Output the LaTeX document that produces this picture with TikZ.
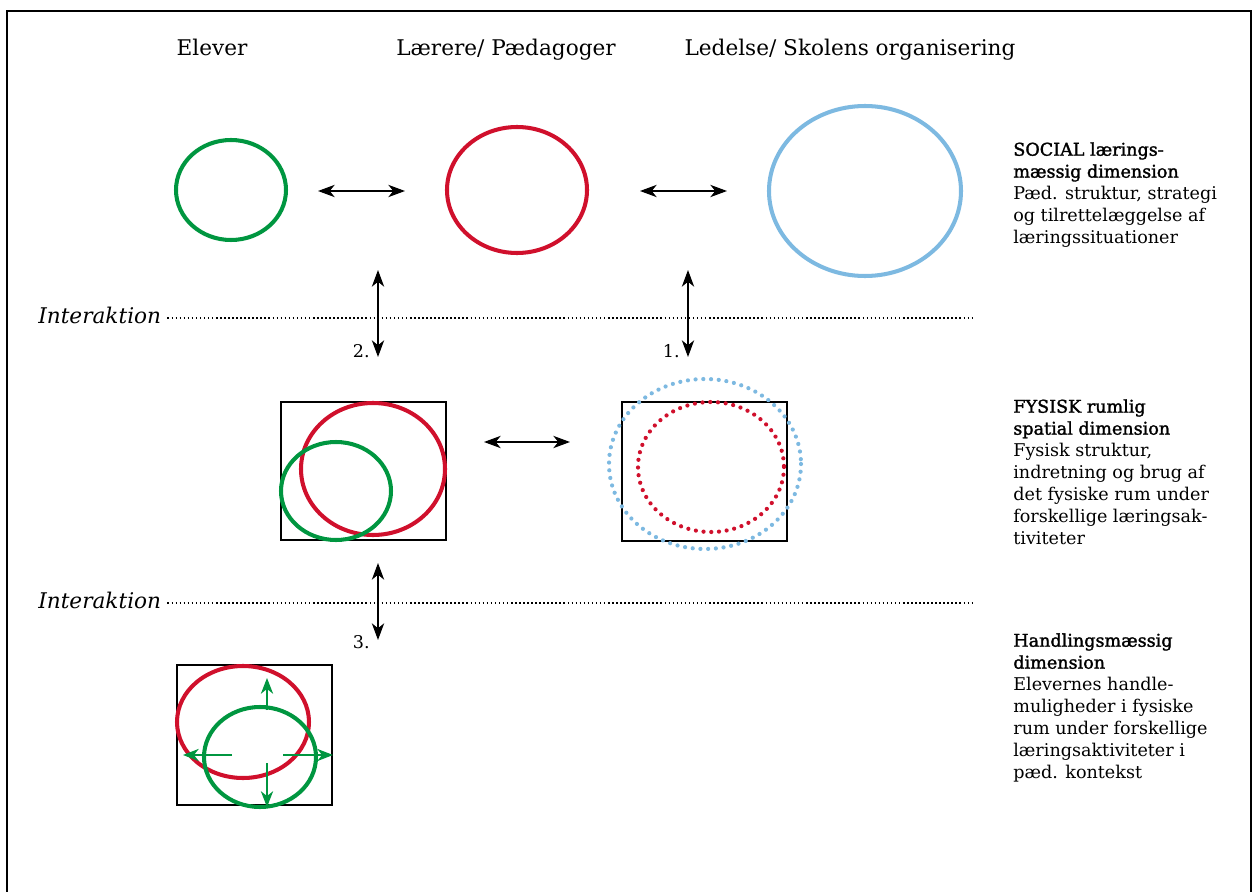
\documentclass[tikz,border=0pt]{standalone}
\usepackage{fontspec}
\setmainfont{DejaVu Serif}
\newfontfamily\medfont[FakeBold=1.6]{DejaVu Serif}
\usetikzlibrary{arrows.meta}

\definecolor{elevgreen}{RGB}{0,150,64}
\definecolor{laererred}{RGB}{208,16,44}
\definecolor{ledelseblue}{RGB}{125,185,225}

\tikzset{
  headtext/.style={anchor=base, inner sep=0pt, font=\fontsize{12.3}{14}\selectfont},
  dimtext/.style={anchor=north west, inner sep=0pt, align=left, font=\fontsize{10}{12.5}\selectfont},
  numtext/.style={anchor=base east, inner sep=0pt, font=\fontsize{10}{12}\selectfont},
  dobbeltpil/.style={{Stealth[length=9.5pt,width=7pt,inset=2.8pt]}-{Stealth[length=9.5pt,width=7pt,inset=2.8pt]}, line width=0.75pt},
  gronpil/.style={-{Stealth[length=9pt,width=7pt,inset=2.8pt]}, line width=0.7pt, elevgreen},
  ring/.style={line width=2.3pt},
  prikring/.style={line width=2.4pt, line cap=round, dash pattern=on 0pt off 4.4pt},
  rum/.style={line width=1.2pt},
  skillelinje/.style={line width=1.1pt, dash pattern=on 0.9pt off 1.4pt},
}

\begin{document}
\begin{tikzpicture}[x=0.02cm, y=-0.02cm]
    \useasboundingbox (0,0) rectangle (1252,892);

    % 1. RAMME
    \draw[line width=1pt] (7,892) -- (7,11) -- (1251,11) -- (1251,892);

    % 2. OVERSKRIFTER
    \node[headtext] (elever) at (212,56) {Elever};
    \node[headtext] (laerere) at (506,56) {Lærere/ Pædagoger};
    \node[headtext] (ledelse) at (850,56) {Ledelse/ Skolens organisering};

    % 3. SOCIAL DIMENSION
    \draw[ring, elevgreen] (231,190) ellipse [x radius=55, y radius=50];
    \draw[ring, laererred] (517,190) ellipse [x radius=70, y radius=63];
    \draw[ring, ledelseblue] (865,191) ellipse [x radius=96, y radius=85];

    \coordinate (s1) at (318,191); \coordinate (s2) at (405,191);
    \coordinate (s3) at (640,191); \coordinate (s4) at (727,191);
    \draw[dobbeltpil] (s1) -- (s2);
    \draw[dobbeltpil] (s3) -- (s4);

    % 4. INTERAKTION
    \foreach \y/\n in {318/inter1, 603/inter2} {
        \node[anchor=base west, inner sep=0pt, font=\fontsize{12.3}{14}\selectfont\itshape] (\n) at (38,\y+5) {Interaktion};
        \coordinate (\n e) at (973,\y);
        \draw[skillelinje] (\n.east |- \n e) ++(6,0) -- (\n e);
    }

    \coordinate (v1) at (378,270); \coordinate (v2) at (378,357);
    \coordinate (v3) at (688,270); \coordinate (v4) at (688,357);
    \coordinate (v5) at (378,563); \coordinate (v6) at (378,640);
    \draw[dobbeltpil] (v1) -- (v2);
    \draw[dobbeltpil] (v3) -- (v4);
    \draw[dobbeltpil] (v5) -- (v6);
    \node[numtext] (nr2) at (370,357) {2.};
    \node[numtext] (nr1) at (680,357) {1.};
    \node[numtext] (nr3) at (370,648) {3.};

    % 5. FYSISK DIMENSION
    \draw[rum] (281,402) rectangle (446,540);
    \draw[ring, laererred] (373,469) ellipse [x radius=72, y radius=66];
    \draw[ring, elevgreen] (336,491) ellipse [x radius=55, y radius=49];

    \coordinate (f1) at (484,442); \coordinate (f2) at (570,442);
    \draw[dobbeltpil] (f1) -- (f2);

    \draw[rum] (622,402) rectangle (787,541);
    \draw[prikring, laererred] (711,467) ellipse [x radius=73, y radius=65];
    \draw[prikring, ledelseblue] (705,464) ellipse [x radius=96, y radius=85];

    % 6. HANDLINGSMÆSSIG DIMENSION
    \draw[rum] (177,665) rectangle (332,805);
    \draw[ring, laererred] (243,722) ellipse [x radius=66, y radius=56];
    \draw[ring, elevgreen] (260,757) ellipse [x radius=56, y radius=50];
    \foreach \ax/\ay/\bx/\by in {267/710/267/678, 267/763/267/807, 232/755/183/755, 283/755/333/755} {
        \draw[gronpil] (\ax,\ay) -- (\bx,\by);
    }

    % 7. TEKSTER TIL HØJRE
    \node[dimtext] (social) at (1013,142) {{\medfont SOCIAL lærings-}\\ {\medfont mæssig dimension}\\ Pæd. struktur, strategi\\ og tilrettelæggelse af\\ læringssituationer};
    \node[dimtext] (fysisk) at (1013,399) {{\medfont FYSISK rumlig}\\ {\medfont spatial dimension}\\ Fysisk struktur,\\ indretning og brug af\\ det fysiske rum under\\ forskellige læringsak-\\ tiviteter};
    \node[dimtext] (handling) at (1013,633) {{\medfont Handlingsmæssig}\\ {\medfont dimension}\\ Elevernes handle-\\ muligheder i fysiske\\ rum under forskellige\\ læringsaktiviteter i\\ pæd. kontekst};

\end{tikzpicture}
\end{document}
